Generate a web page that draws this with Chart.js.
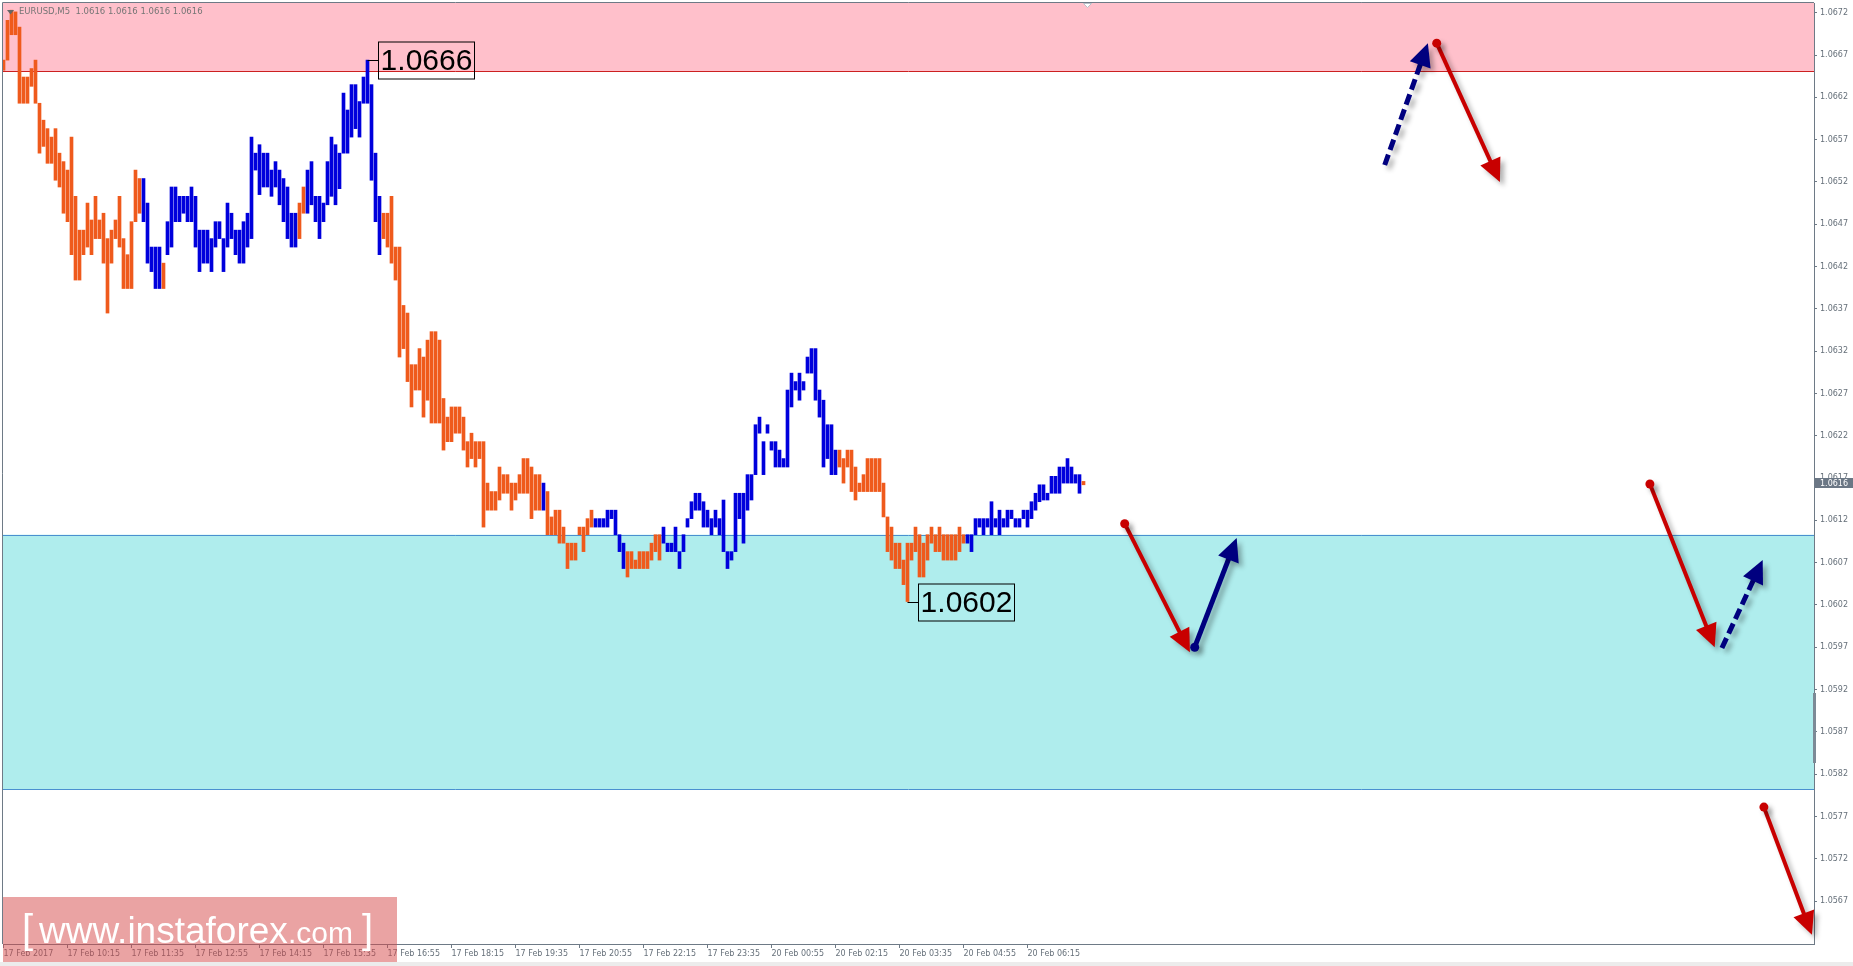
<!DOCTYPE html>
<html>
<head>
<meta charset="utf-8">
<title>EURUSD,M5</title>
<script src="https://cdn.jsdelivr.net/npm/chart.js@4.4.1/dist/chart.umd.min.js"></script>
<style>
  html, body { margin: 0; padding: 0; background: #fff; overflow: hidden; }
  canvas { display: block; }
</style>
</head>
<body>
<canvas id="chart" width="1853" height="966"></canvas>
<script>
// EURUSD M5 bars (low / high of each bar)
const lows = [
  1.06652, 1.06664, 1.06694, 1.06694, 1.06613, 1.06613, 1.06613, 1.06633, 1.06613, 1.06554, // 0
  1.06562, 1.06542, 1.06542, 1.06522, 1.06514, 1.06483, 1.06473, 1.06434, 1.06404, 1.06404, // 10
  1.06434, 1.06443, 1.06434, 1.06453, 1.06453, 1.06424, 1.06365, 1.06424, 1.06453, 1.06443, // 20
  1.06394, 1.06394, 1.06394, 1.06473, 1.06483, 1.06473, 1.06424, 1.06414, 1.06394, 1.06394, // 30
  1.06394, 1.06434, 1.06443, 1.06473, 1.06473, 1.06483, 1.06473, 1.06473, 1.06443, 1.06414, // 40
  1.06424, 1.06424, 1.06414, 1.06443, 1.06453, 1.06414, 1.06443, 1.06453, 1.06434, 1.06424, // 50
  1.06424, 1.06443, 1.06453, 1.06534, 1.06505, 1.06514, 1.06514, 1.06503, 1.06514, 1.06493, // 60
  1.06473, 1.06453, 1.06443, 1.06443, 1.06453, 1.06483, 1.06483, 1.06493, 1.06473, 1.06453, // 70
  1.06473, 1.06493, 1.06503, 1.06493, 1.06512, 1.06554, 1.06554, 1.06573, 1.06583, 1.06573, // 80
  1.06613, 1.06613, 1.06522, 1.06473, 1.06434, 1.06453, 1.06443, 1.06424, 1.06404, 1.06313, // 90
  1.06323, 1.06284, 1.06254, 1.06274, 1.06274, 1.06242, 1.06262, 1.06235, 1.06235, 1.06235, // 100
  1.06203, 1.06213, 1.06213, 1.06223, 1.06223, 1.06203, 1.06183, 1.06193, 1.06183, 1.06193, // 110
  1.06112, 1.06132, 1.06132, 1.06132, 1.06144, 1.06152, 1.06152, 1.06132, 1.06144, 1.06152, // 120
  1.06152, 1.06152, 1.06122, 1.06132, 1.06132, 1.06132, 1.06103, 1.06103, 1.06103, 1.06093, // 130
  1.06093, 1.06063, 1.06073, 1.06073, 1.06103, 1.06083, 1.06103, 1.06112, 1.06112, 1.06112, // 140
  1.06112, 1.06112, 1.06122, 1.06103, 1.06083, 1.06063, 1.06053, 1.06063, 1.06063, 1.06063, // 150
  1.06063, 1.06063, 1.06073, 1.06083, 1.06073, 1.06093, 1.06083, 1.06083, 1.06083, 1.06063, // 160
  1.06083, 1.06112, 1.06122, 1.06132, 1.06132, 1.06112, 1.06112, 1.06103, 1.06112, 1.06103, // 170
  1.06083, 1.06063, 1.06073, 1.06083, 1.06122, 1.06093, 1.06132, 1.06144, 1.06174, 1.06223, // 180
  1.06174, 1.06223, 1.06203, 1.06183, 1.06183, 1.06183, 1.06183, 1.06254, 1.06274, 1.06262, // 190
  1.06274, 1.06294, 1.06294, 1.06262, 1.06242, 1.06183, 1.06193, 1.06174, 1.06174, 1.06183, // 200
  1.06164, 1.06183, 1.06154, 1.06144, 1.06154, 1.06154, 1.06154, 1.06154, 1.06154, 1.06154, // 210
  1.06124, 1.06083, 1.06073, 1.06063, 1.06063, 1.06044, 1.06024, 1.06073, 1.06083, 1.06053, // 220
  1.06053, 1.06073, 1.06093, 1.06083, 1.06083, 1.06073, 1.06073, 1.06073, 1.06073, 1.06083, // 230
  1.06093, 1.06093, 1.06083, 1.06103, 1.06112, 1.06103, 1.06112, 1.06103, 1.06112, 1.06103, // 240
  1.06112, 1.06112, 1.06122, 1.06112, 1.06112, 1.06122, 1.06112, 1.06122, 1.06132, 1.06142, // 250
  1.06144, 1.06144, 1.06152, 1.06152, 1.06152, 1.06164, 1.06164, 1.06164, 1.06164, 1.06152, // 260
  1.06162                                                                                     // 270
];
const highs = [
  1.06664, 1.06711, 1.06723, 1.06721, 1.06703, 1.06644, 1.06644, 1.06654, 1.06664, 1.06613, // 0
  1.06593, 1.06583, 1.06573, 1.06583, 1.06554, 1.06544, 1.06534, 1.06573, 1.06503, 1.06463, // 10
  1.06463, 1.06495, 1.06475, 1.06503, 1.06475, 1.06483, 1.06453, 1.06463, 1.06475, 1.06503, // 20
  1.06453, 1.06434, 1.06473, 1.06534, 1.06524, 1.06524, 1.06495, 1.06443, 1.06443, 1.06443, // 30
  1.06424, 1.06473, 1.06514, 1.06514, 1.06503, 1.06503, 1.06503, 1.06514, 1.06503, 1.06463, // 40
  1.06463, 1.06463, 1.06453, 1.06473, 1.06473, 1.06453, 1.06495, 1.06483, 1.06463, 1.06463, // 50
  1.06473, 1.06483, 1.06573, 1.06554, 1.06564, 1.06554, 1.06554, 1.06534, 1.06544, 1.06534, // 60
  1.06524, 1.06514, 1.06483, 1.06483, 1.06495, 1.06514, 1.06534, 1.06544, 1.06503, 1.06503, // 70
  1.06495, 1.06544, 1.06573, 1.06564, 1.06554, 1.06625, 1.06605, 1.06635, 1.06635, 1.06615, // 80
  1.06644, 1.06664, 1.06635, 1.06554, 1.06503, 1.06483, 1.06483, 1.06503, 1.06443, 1.06443, // 90
  1.06374, 1.06365, 1.06304, 1.06304, 1.06323, 1.06313, 1.06333, 1.06343, 1.06343, 1.06333, // 100
  1.06264, 1.06242, 1.06254, 1.06254, 1.06254, 1.06242, 1.06213, 1.06223, 1.06213, 1.06213, // 110
  1.06213, 1.06164, 1.06154, 1.06154, 1.06183, 1.06174, 1.06174, 1.06164, 1.06164, 1.06174, // 120
  1.06193, 1.06193, 1.06183, 1.06174, 1.06174, 1.06164, 1.06154, 1.06124, 1.06132, 1.06132, // 130
  1.06112, 1.06093, 1.06093, 1.06093, 1.06112, 1.06112, 1.06122, 1.06132, 1.06122, 1.06122, // 140
  1.06122, 1.06132, 1.06132, 1.06132, 1.06103, 1.06093, 1.06083, 1.06083, 1.06073, 1.06083, // 150
  1.06083, 1.06083, 1.06093, 1.06103, 1.06103, 1.06112, 1.06093, 1.06093, 1.06112, 1.06083, // 160
  1.06103, 1.06122, 1.06142, 1.06152, 1.06152, 1.06142, 1.06132, 1.06122, 1.06132, 1.06122, // 170
  1.06144, 1.06083, 1.06083, 1.06152, 1.06152, 1.06152, 1.06174, 1.06174, 1.06233, 1.06242, // 180
  1.06213, 1.06233, 1.06213, 1.06213, 1.06203, 1.06193, 1.06274, 1.06294, 1.06284, 1.06294, // 190
  1.06284, 1.06313, 1.06323, 1.06323, 1.06274, 1.06262, 1.06233, 1.06233, 1.06203, 1.06203, // 200
  1.06193, 1.06203, 1.06203, 1.06183, 1.06164, 1.06174, 1.06193, 1.06193, 1.06193, 1.06193, // 210
  1.06164, 1.06124, 1.06112, 1.06093, 1.06093, 1.06073, 1.06093, 1.06093, 1.06112, 1.06103, // 220
  1.06093, 1.06103, 1.06112, 1.06103, 1.06112, 1.06103, 1.06103, 1.06103, 1.06103, 1.06112, // 230
  1.06103, 1.06103, 1.06103, 1.06122, 1.06122, 1.06122, 1.06122, 1.06142, 1.06122, 1.06132, // 240
  1.06122, 1.06132, 1.06132, 1.06122, 1.06122, 1.06132, 1.06132, 1.06142, 1.06152, 1.06162, // 250
  1.06162, 1.06152, 1.06172, 1.06172, 1.06183, 1.06183, 1.06193, 1.06183, 1.06174, 1.06174, // 260
  1.06166                                                                                     // 270
];
// wave of each bar: o = falling wave (orange), b = rising wave (blue)
const wave = (
  'oooooooooo' + 'oooooooooo' + 'oooooooooo' + 'ooooobbbbb' + 'obbbbbbbbb' +
  'bbbbbbbbbb' + 'bbbbbbbbbb' + 'bbbboobbbb' + 'bbbbbbbbbb' + 'bbbbbooooo' +
  'oooooooooo' + 'oooooooooo' + 'oooooooooo' + 'oooooboooo' + 'oooooooobb' +
  'bbbbbboooo' + 'ooooobbbbb' + 'bbbbbbbbbb' + 'bbbbbbbbbb' + 'bbbbbbbbbb' +
  'bbbbbbbbbo' + 'oooooooooo' + 'oooooooooo' + 'oooooooooo' + 'obbbbbbbbb' +
  'bbbbbbbbbb' + 'bbbbbbbbbb' + 'o'
).split('');

// time axis labels (bar index -> label)
const xTickIndex = [0, 16, 32, 48, 64, 80, 96, 112, 128, 144, 160, 176, 192, 208, 224, 240, 256];
const xTickLabels = ['17 Feb 2017', '17 Feb 10:15', '17 Feb 11:35', '17 Feb 12:55', '17 Feb 14:15',
  '17 Feb 15:35', '17 Feb 16:55', '17 Feb 18:15', '17 Feb 19:35', '17 Feb 20:55', '17 Feb 22:15',
  '17 Feb 23:35', '20 Feb 00:55', '20 Feb 02:15', '20 Feb 03:35', '20 Feb 04:55', '20 Feb 06:15'];
const yTickValues = [1.0567, 1.0572, 1.0577, 1.0582, 1.0587, 1.0592, 1.0597, 1.0602, 1.0607, 1.0612, 1.0617,
  1.0622, 1.0627, 1.0632, 1.0637, 1.0642, 1.0647, 1.0652, 1.0657, 1.0662, 1.0667, 1.0672];

// zones (price ranges)
const resistanceZone = [1.06651, 1.0690];
const supportZone = [1.05802, 1.06103];

// marked extremes
const extremeIdx = [91, 226];
const extremePrice = [1.06664, 1.06024];
const extremeText = ['1.0666', '1.0602'];

// forecast arrows: [bar index, price]
const arrowFrom = [[345.3, 1.06540], [358.3, 1.06684], [280.3, 1.06116], [297.8, 1.05970],
                   [411.6, 1.06163], [429.6, 1.05969], [440.1, 1.05781]];
const arrowTo   = [[356.1, 1.06684], [374.1, 1.06520], [296.6, 1.05964], [308.3, 1.06099],
                   [427.8, 1.05970], [439.8, 1.06073], [452.1, 1.05630]];
const arrowKind = ['upAlt', 'down', 'down', 'up', 'down', 'upAlt', 'down'];

const symbolHeader = 'EURUSD,M5  1.0616 1.0616 1.0616 1.0616';
const lastPrice = 1.06164;
const lastPriceText = '1.0616';

const ORANGE = '#ef5a1c';
const BLUE = '#0000dc';
const AXIS = '#6e7a86';
const TEXT = '#66707a';

const arrowStyle = {
  down:  {color: '#c80000', width: 4, dot: true, dash: []},
  up:    {color: '#00007f', width: 5, dot: true, dash: []},
  upAlt: {color: '#00007f', width: 5, dot: false, dash: [11, 5]}
};

function drawArrow(ctx, x1, y1, x2, y2, st) {
  const dx = x2 - x1, dy = y2 - y1, len = Math.hypot(dx, dy);
  const ux = dx / len, uy = dy / len;
  const headLen = 23, headHalf = 11;
  const bx = x2 - ux * headLen, by = y2 - uy * headLen;
  ctx.save();
  ctx.shadowColor = 'rgba(0,0,0,0.30)';
  ctx.shadowBlur = 5;
  ctx.shadowOffsetX = 4;
  ctx.shadowOffsetY = 4;
  ctx.strokeStyle = st.color;
  ctx.fillStyle = st.color;
  ctx.lineWidth = st.width;
  ctx.setLineDash(st.dash);
  ctx.beginPath();
  ctx.moveTo(x1, y1);
  ctx.lineTo(bx + ux * 2, by + uy * 2);
  ctx.stroke();
  ctx.setLineDash([]);
  ctx.beginPath();
  ctx.moveTo(x2, y2);
  ctx.lineTo(bx - uy * headHalf, by + ux * headHalf);
  ctx.lineTo(bx + uy * headHalf, by - ux * headHalf);
  ctx.closePath();
  ctx.fill();
  if (st.dot) {
    ctx.beginPath();
    ctx.arc(x1, y1, 4.5, 0, Math.PI * 2);
    ctx.fill();
  }
  ctx.restore();
}

const overlays = {
  id: 'overlays',
  beforeDatasetsDraw(chart) {
    const {ctx, chartArea: a, scales: {y}} = chart;
    const w = a.right - a.left;
    ctx.save();
    ctx.beginPath();
    ctx.rect(a.left, a.top, w, a.bottom - a.top);
    ctx.clip();
    // resistance zone
    let yTop = y.getPixelForValue(resistanceZone[1]);
    let yBot = y.getPixelForValue(resistanceZone[0]);
    ctx.fillStyle = '#ffc0cb';
    ctx.fillRect(a.left, yTop, w, yBot - yTop);
    ctx.strokeStyle = '#cc2020';
    ctx.lineWidth = 1;
    ctx.beginPath();
    ctx.moveTo(a.left, Math.round(yBot) + 0.5);
    ctx.lineTo(a.right, Math.round(yBot) + 0.5);
    ctx.stroke();
    // support zone
    yTop = y.getPixelForValue(supportZone[1]);
    yBot = y.getPixelForValue(supportZone[0]);
    ctx.fillStyle = '#afeded';
    ctx.fillRect(a.left, yTop, w, yBot - yTop);
    ctx.strokeStyle = '#4a90d0';
    ctx.beginPath();
    ctx.moveTo(a.left, Math.round(yTop) + 0.5);
    ctx.lineTo(a.right, Math.round(yTop) + 0.5);
    ctx.moveTo(a.left, Math.round(yBot) + 0.5);
    ctx.lineTo(a.right, Math.round(yBot) + 0.5);
    ctx.stroke();
    ctx.restore();
  },
  afterDatasetsDraw(chart) {
    const {ctx, scales: {x, y}} = chart;
    ctx.save();
    // extreme labels
    for (let k = 0; k < extremeIdx.length; k++) {
      const bx = x.getPixelForValue(extremeIdx[k]);
      const py = Math.round(y.getPixelForValue(extremePrice[k])) + 0.5;
      const left = Math.round(bx + 10) + 0.5;
      ctx.strokeStyle = '#000';
      ctx.lineWidth = 1;
      ctx.beginPath();
      ctx.moveTo(bx, py);
      ctx.lineTo(left, py);
      ctx.stroke();
      ctx.strokeRect(left, py - 18.5, 96, 37);
      ctx.fillStyle = '#000';
      ctx.font = '30px "Liberation Sans", Arial, sans-serif';
      ctx.textAlign = 'center';
      ctx.textBaseline = 'middle';
      ctx.fillText(extremeText[k], left + 48, py + 1);
    }
    ctx.restore();
    // forecast arrows
    for (let k = 0; k < arrowFrom.length; k++) {
      drawArrow(ctx,
        x.getPixelForValue(arrowFrom[k][0]), y.getPixelForValue(arrowFrom[k][1]),
        x.getPixelForValue(arrowTo[k][0]), y.getPixelForValue(arrowTo[k][1]),
        arrowStyle[arrowKind[k]]);
    }
  },
  afterDraw(chart) {
    const {ctx, chartArea: a, scales: {y}} = chart;
    ctx.save();
    // left / top frame
    ctx.strokeStyle = AXIS;
    ctx.lineWidth = 1;
    ctx.beginPath();
    ctx.moveTo(a.left - 0.5, a.bottom);
    ctx.lineTo(a.left - 0.5, a.top - 0.5);
    ctx.lineTo(a.right, a.top - 0.5);
    ctx.stroke();
    // chart shift marker
    ctx.fillStyle = '#fff';
    ctx.strokeStyle = '#b8c0c8';
    ctx.beginPath();
    ctx.moveTo(1083.5, 3.5); ctx.lineTo(1091.5, 3.5); ctx.lineTo(1087.5, 7.5); ctx.closePath();
    ctx.fill(); ctx.stroke();
    // header
    ctx.fillStyle = '#666';
    ctx.beginPath();
    ctx.moveTo(7, 10); ctx.lineTo(14, 10); ctx.lineTo(10.5, 14.5); ctx.closePath();
    ctx.fill();
    ctx.fillStyle = '#757575';
    ctx.font = '8.5px "DejaVu Sans", sans-serif';
    ctx.textAlign = 'left';
    ctx.textBaseline = 'middle';
    ctx.fillText(symbolHeader, 19, 12);
    // current price marker on the axis
    const py = Math.round(y.getPixelForValue(lastPrice));
    ctx.font = '8px "DejaVu Sans", sans-serif';
    ctx.fillStyle = '#6b7785';
    ctx.fillRect(a.right + 1, py - 5, 40, 10);
    ctx.fillStyle = '#fff';
    ctx.fillText(lastPriceText, a.right + 6, py + 0.5);
    // axis scroll mark
    ctx.fillStyle = '#7d8a96';
    ctx.fillRect(a.right - 1, 693, 3, 70);
    // bottom strip
    ctx.fillStyle = '#ececec';
    ctx.fillRect(0, 962, 1853, 4);
    // watermark
    ctx.fillStyle = 'rgba(214,72,72,0.5)';
    ctx.fillRect(3, 897, 394, 65);
    ctx.fillStyle = '#fff';
    ctx.textBaseline = 'alphabetic';
    ctx.font = '40px "Liberation Sans", Arial, sans-serif';
    ctx.fillText('[', 22, 943);
    ctx.font = '37px "Liberation Sans", Arial, sans-serif';
    ctx.fillText('www.instaforex', 39, 943);
    ctx.font = '30px "Liberation Sans", Arial, sans-serif';
    ctx.fillText('.com', 288, 943);
    ctx.font = '40px "Liberation Sans", Arial, sans-serif';
    ctx.fillText(']', 362, 943);
    ctx.restore();
  }
};

Chart.defaults.font.family = '"DejaVu Sans", sans-serif';
Chart.defaults.font.size = 8;
Chart.defaults.color = TEXT;

const chart = new Chart(document.getElementById('chart').getContext('2d'), {
  type: 'bar',
  data: {
    datasets: [{
      data: lows.map((lo, i) => ({x: i, y: [lo, highs[i]]})),
      backgroundColor: (c) => wave[c.dataIndex] === 'o' ? ORANGE : BLUE,
      borderWidth: 0,
      barThickness: 3
    }]
  },
  options: {
    responsive: false,
    animation: false,
    events: [],
    layout: {padding: {left: 3, top: 3, right: 0, bottom: 0}},
    plugins: {legend: {display: false}, tooltip: {enabled: false}},
    scales: {
      x: {
        type: 'linear',
        min: -0.125,
        max: 452.625,
        offset: false,
        bounds: 'data',
        grid: {drawOnChartArea: false, drawTicks: true, tickLength: 4, color: AXIS, offset: false},
        border: {display: true, color: AXIS},
        afterBuildTicks: (s) => { s.ticks = xTickIndex.map(v => ({value: v})); },
        afterFit: (s) => { s.height = 22; s.paddingLeft = 0; s.paddingRight = 0; },
        ticks: {
          autoSkip: false, maxRotation: 0, minRotation: 0, align: 'start', padding: 1,
          callback: (v, idx) => xTickLabels[idx]
        }
      },
      y: {
        position: 'right',
        min: 1.056192,
        max: 1.067315,
        beginAtZero: false,
        bounds: 'data',
        grid: {drawOnChartArea: false, drawTicks: true, tickLength: 3, color: AXIS},
        border: {display: true, color: AXIS},
        afterBuildTicks: (s) => { s.ticks = yTickValues.map(v => ({value: v})); },
        afterFit: (s) => { s.width = 39; s.paddingTop = 0; s.paddingBottom = 0; },
        ticks: {padding: 3, callback: (v) => v.toFixed(4)}
      }
    }
  },
  plugins: [overlays]
});
</script>
</body>
</html>
